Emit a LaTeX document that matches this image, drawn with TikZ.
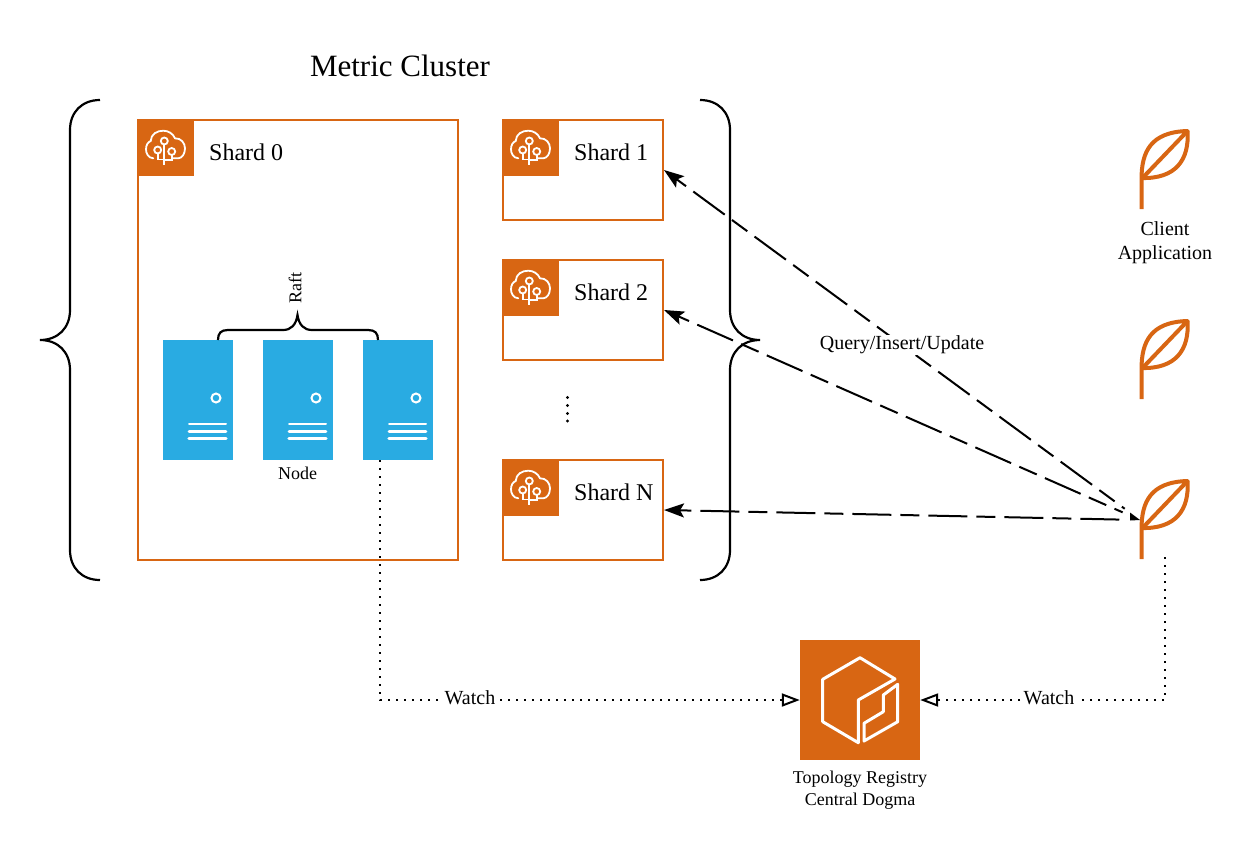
\documentclass[tikz,border=0pt]{standalone}
\usepackage{fontspec}
\setmainfont{Liberation Serif}
\usetikzlibrary{arrows.meta}
\definecolor{awsorange}{HTML}{D86613}
\definecolor{serverblue}{HTML}{29ABE2}
\tikzset{
  shardbox/.style={draw=awsorange,line width=2pt,fill=white,inner sep=0pt,minimum width=#1},
  iconbox/.style={fill=awsorange,inner sep=0pt,minimum size=57pt},
  serverbox/.style={fill=serverblue,inner sep=0pt,minimum width=70pt,minimum height=120pt},
  brace/.style={draw=black,line width=2.2pt,rounded corners=0pt},
  queryline/.style={line width=2pt,dash pattern=on 39pt off 9pt on 19pt off 9pt,dash phase=55pt,shorten >=19pt,
    {Stealth[length=20pt,width=14pt,inset=4pt]}-},
  watchline/.style={line width=2pt,dash pattern=on 2pt off 6pt,
    -{Triangle[open,length=18pt,width=13pt,line width=2pt]}},
  lbl/.style={font=\fontsize{20}{24}\selectfont,inner sep=1pt},
  smalllbl/.style={font=\fontsize{18}{22}\selectfont,inner sep=1pt},
  shardlbl/.style={font=\fontsize{24}{28}\selectfont,anchor=west,inner sep=0pt},
  pics/shardicon/.style={code={
    \node[iconbox,anchor=north west] at (-1,-1) {};
    \draw[white,line width=1.8pt,line cap=round]
      (15.3,38.3) .. controls (10,38) and (8,33) .. (8,29.3)
      .. controls (8,25) and (10,22) .. (12.7,21)
      .. controls (13,14) and (19,10.7) .. (25.3,10.7)
      .. controls (31,10.7) and (35,14) .. (37,18.3)
      .. controls (43,18) and (47,23) .. (47,28.3)
      .. controls (47,34) and (44,38) .. (40.3,38.3) -- (35.3,38.3);
    \draw[white,line width=1.8pt] (26.3,24.5) -- (26.3,45);
    \draw[white,line width=1.8pt] (26.3,21) circle (3.5);
    \draw[white,line width=1.8pt] (19.7,30) circle (3.5);
    \draw[white,line width=1.8pt] (33.7,31.5) circle (3.5);
    \draw[white,line width=1.8pt] (19.7,33.5) -- (19.7,39.5) -- (26.3,39.5);
    \draw[white,line width=1.8pt] (33.7,35) -- (33.7,40) -- (26.3,40);
  }},
  pics/serverdetail/.style={code={
    \draw[white,line width=2pt] (53,58) circle (4.5);
    \draw[white,line width=2pt,line cap=round] (26,84.3) -- (63,84.3);
    \draw[white,line width=2.8pt,line cap=round] (26,91.3) -- (63,91.3);
    \draw[white,line width=3.2pt,line cap=round] (26,98.7) -- (63,98.7);
  }},
  pics/leaf/.style={code={
    \draw[awsorange,line width=4pt,line join=round]
      (0,79) -- (0,49) .. controls (0,22) and (9,2) .. (46,1) -- (0,49);
    \draw[awsorange,line width=4pt,line join=round]
      (46,1) .. controls (48,30) and (34,49) .. (0,48);
  }}
}
\begin{document}
\begin{tikzpicture}[x=1pt,y=-1pt]
\useasboundingbox (0,0) rectangle (1260,844);

\node[font=\fontsize{31}{38}\selectfont] (title) at (400,66) {Metric Cluster};

\node[shardbox=320pt,minimum height=440pt] (shard0) at (298,340) {};
\node[shardbox=160pt,minimum height=100pt] (shard1) at (583,170) {};
\node[shardbox=160pt,minimum height=100pt] (shard2) at (583,310) {};
\node[shardbox=160pt,minimum height=100pt] (shardn) at (583,510) {};

\pic at (138,120) {shardicon};
\pic at (503,120) {shardicon};
\pic at (503,260) {shardicon};
\pic at (503,460) {shardicon};

\node[shardlbl] (label0) at (209,152) {Shard 0};
\node[shardlbl] (label1) at (574,152) {Shard 1};
\node[shardlbl] (label2) at (574,292) {Shard 2};
\node[shardlbl] (labeln) at (574,492) {Shard N};

\node[serverbox] (server0) at (198,400) {};
\node[serverbox] (server1) at (298,400) {};
\node[serverbox] (server2) at (398,400) {};
\pic at (163,340) {serverdetail};
\pic at (263,340) {serverdetail};
\pic at (363,340) {serverdetail};

\node[smalllbl] (nodelabel) at (297.5,473) {Node};
\node[smalllbl,rotate=90] (raftlabel) at (295,288) {Raft};

\draw[brace] (218,340) .. controls (218,333) and (221,330) .. (228,330) -- (283,330)
  .. controls (291,330) and (296,325) .. (297.5,315)
  .. controls (299,325) and (304,330) .. (312,330) -- (368,330)
  .. controls (375,330) and (378,333) .. (378,340);

\draw[brace] (100,100) .. controls (82,100) and (70,112) .. (70,130) -- (70,310)
  .. controls (70,328) and (58,340) .. (40,340)
  .. controls (58,340) and (70,352) .. (70,370) -- (70,550)
  .. controls (70,568) and (82,580) .. (100,580);
\draw[brace] (700,100) .. controls (718,100) and (730,112) .. (730,130) -- (730,310)
  .. controls (730,328) and (742,340) .. (760,340)
  .. controls (742,340) and (730,352) .. (730,370) -- (730,550)
  .. controls (730,568) and (718,580) .. (700,580);

\fill (567.5,397.5) circle (1.7);
\fill (567.5,405.5) circle (1.7);
\fill (567.5,413.5) circle (1.7);
\fill (567.5,421) circle (1.7);

\pic at (1141.5,130) {leaf};
\pic at (1141.5,320) {leaf};
\pic at (1141.5,480) {leaf};
\node[lbl,align=center] (clientlabel) at (1165,243) {Client\\Application};

\coordinate (clientport) at (1140,520);
\draw[queryline] (shard1.east) -- (clientport);
\draw[queryline] (shard2.east) -- (clientport);
\draw[queryline] (shardn.east) -- (clientport);
\fill (clientport) -- ++(-10,-7.5) -- ++(0,8) -- cycle;
\node[lbl,fill=white] (querylabel) at (902,345) {Query/Insert/Update};

\node[fill=awsorange,inner sep=0pt,minimum size=120pt] (registry) at (860,700) {};
\draw[white,line width=3pt,line join=round] (860,657.7) -- (822.7,679.3) -- (822.7,721.7) -- (858.3,742.7)
  -- (858.3,700) -- (895,679) -- cycle;
\draw[white,line width=3pt,line join=round] (897.7,684.3) -- (897.7,721.7) -- (864,741) -- (864,723.3)
  -- (883.3,711.7) -- (883.3,695) -- cycle;
\node[smalllbl,align=center] (registrylabel) at (860,790) {Topology Registry\\Central Dogma};

\coordinate (watchstart) at (380,460);
\coordinate (clientwatch) at (1165,557);
\draw[watchline] (watchstart) |- (registry.west);
\draw[watchline] (clientwatch) |- (registry.east);
\node[lbl,fill=white] (watchleft) at (470,698) {Watch};
\node[lbl,fill=white,inner sep=3pt] (watchright) at (1049,698) {Watch};
\end{tikzpicture}
\end{document}
